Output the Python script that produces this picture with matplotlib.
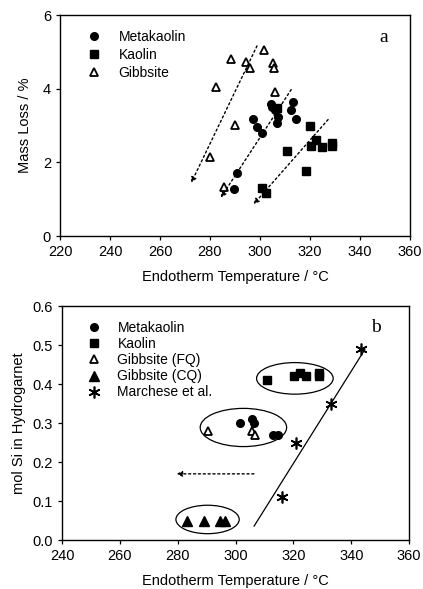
import matplotlib
matplotlib.use("Agg")
import matplotlib.pyplot as plt
from matplotlib.patches import Ellipse

plt.rcParams["font.family"] = ["Liberation Sans", "DejaVu Sans"]
plt.rcParams["font.size"] = 10.5

# ---- panel a: mass loss vs endotherm temperature ----
a_meta_x = [304.3, 306.0, 313.3, 312.4, 314.4, 297.3, 298.7, 301.0, 306.7, 307.3, 290.9, 289.7, 305.0]
a_meta_y = [3.58, 3.42, 3.65, 3.42, 3.19, 3.17, 2.97, 2.79, 3.08, 3.22, 1.72, 1.27, 3.50]
a_kaol_x = [320.0, 310.7, 320.3, 322.4, 324.7, 328.7, 328.7, 318.3, 300.7, 302.4, 306.7]
a_kaol_y = [2.99, 2.32, 2.44, 2.62, 2.43, 2.53, 2.44, 1.77, 1.32, 1.18, 3.47]
a_gibb_x = [282.4, 288.4, 294.4, 296.0, 301.6, 305.3, 305.6, 306.1, 290.0, 280.0, 285.6]
a_gibb_y = [4.04, 4.80, 4.73, 4.55, 5.05, 4.69, 4.55, 3.90, 3.01, 2.14, 1.34]
# dotted trend arrows (start, end)
a_arrows = [((299.3, 5.23), (272.0, 1.38)),
            ((313.1, 4.04), (283.7, 0.98)),
            ((328.0, 3.22), (296.7, 0.81))]

# ---- panel b: mol Si in hydrogarnet ----
b_meta_x = [301.6, 305.6, 306.2, 312.8, 314.8]
b_meta_y = [0.30, 0.31, 0.30, 0.27, 0.27]
b_kaol_x = [310.8, 320.2, 322.3, 324.2, 328.8, 328.9]
b_kaol_y = [0.41, 0.42, 0.43, 0.42, 0.43, 0.42]
b_gfq_x = [290.3, 305.6, 306.7]
b_gfq_y = [0.28, 0.28, 0.27]
b_gcq_x = [283.2, 289.1, 294.7, 296.5]
b_gcq_y = [0.05, 0.05, 0.05, 0.05]
b_march_x = [343.5, 332.9, 320.9, 316.0]
b_march_y = [0.49, 0.35, 0.25, 0.11]
b_fit_x = [306.4, 344.7]
b_fit_y = [0.036, 0.489]
b_arrow = ((307.3, 0.17), (278.6, 0.17))
# ellipses: (center x, center y, width, height)
b_ellipses = [(320.5, 0.415, 26.5, 0.081),
              (302.7, 0.289, 29.9, 0.098),
              (290.3, 0.053, 21.9, 0.073)]

fig = plt.figure(figsize=(4.23, 5.89), dpi=100)
ax1 = fig.add_axes([0.142, 0.599, 0.827, 0.3755])
ax2 = fig.add_axes([0.147, 0.083, 0.820, 0.397])

ms = 5.5
ax1.plot(a_meta_x, a_meta_y, "o", color="black", ms=ms, ls="none", label="Metakaolin")
ax1.plot(a_kaol_x, a_kaol_y, "s", color="black", ms=ms, ls="none", label="Kaolin")
ax1.plot(a_gibb_x, a_gibb_y, "^", mfc="white", mec="black", mew=1.3, ms=ms + 0.5, ls="none",
         label="Gibbsite")
for (x0, y0), (x1, y1) in a_arrows:
    ax1.annotate("", xy=(x1, y1), xytext=(x0, y0),
                 arrowprops=dict(arrowstyle="-|>", ls=(0, (1.5, 2)), lw=1, color="black",
                                 mutation_scale=8))
ax1.set_xlim(220, 360)
ax1.set_ylim(0, 6)
ax1.set_xticks(range(220, 361, 20))
ax1.set_yticks([0, 2, 4, 6])
ax1.set_xlabel("Endotherm Temperature / \u00b0C", labelpad=8)
ax1.set_ylabel("Mass Loss / %", labelpad=8)
ax1.text(0.925, 0.90, "a", transform=ax1.transAxes, family="Liberation Serif", fontsize=14,
         ha="center", va="center")
ax1.legend(loc="upper left", bbox_to_anchor=(0.04, 0.99), frameon=False,
           handletextpad=1.3, labelspacing=0.3, handlelength=1.0, fontsize=10)

ax2.plot(b_meta_x, b_meta_y, "o", color="black", ms=ms, ls="none", label="Metakaolin")
ax2.plot(b_kaol_x, b_kaol_y, "s", color="black", ms=ms, ls="none", label="Kaolin")
ax2.plot(b_gfq_x, b_gfq_y, "^", mfc="white", mec="black", mew=1.3, ms=ms + 0.5, ls="none",
         label="Gibbsite (FQ)")
ax2.plot(b_gcq_x, b_gcq_y, "^", color="black", ms=ms + 1.5, ls="none", label="Gibbsite (CQ)")
ax2.plot(b_march_x, b_march_y, ls="none", marker=(6, 2, 0), mfc="none", mec="black",
         mew=1.2, ms=ms + 3, label="Marchese et al.")
ax2.plot(b_fit_x, b_fit_y, "-", color="black", lw=0.9)
(x0, y0), (x1, y1) = b_arrow
ax2.annotate("", xy=(x1, y1), xytext=(x0, y0),
             arrowprops=dict(arrowstyle="-|>", ls=(0, (1.5, 2)), lw=1, color="black",
                             mutation_scale=8))
for cx, cy, w, h in b_ellipses:
    ax2.add_patch(Ellipse((cx, cy), w, h, fill=False, ec="black", lw=0.9))
ax2.set_xlim(240, 360)
ax2.set_ylim(0, 0.6)
ax2.set_xticks(range(240, 361, 20))
ax2.set_yticks([0, 0.1, 0.2, 0.3, 0.4, 0.5, 0.6])
ax2.set_yticklabels(["0.0", "0.1", "0.2", "0.3", "0.4", "0.5", "0.6"])
ax2.set_xlabel("Endotherm Temperature / \u00b0C", labelpad=8)
ax2.set_ylabel("mol Si in Hydrogarnet", labelpad=5)
ax2.text(0.905, 0.91, "b", transform=ax2.transAxes, family="Liberation Serif", fontsize=14,
         ha="center", va="center")
ax2.legend(loc="upper left", bbox_to_anchor=(0.035, 0.99), frameon=False,
           handletextpad=1.2, labelspacing=0.15, handlelength=1.0, fontsize=10)

for ax in (ax1, ax2):
    ax.tick_params(direction="out", length=3, width=0.9, labelsize=10.5)
    for s in ax.spines.values():
        s.set_linewidth(1.0)

fig.savefig("out.png", dpi=100)
